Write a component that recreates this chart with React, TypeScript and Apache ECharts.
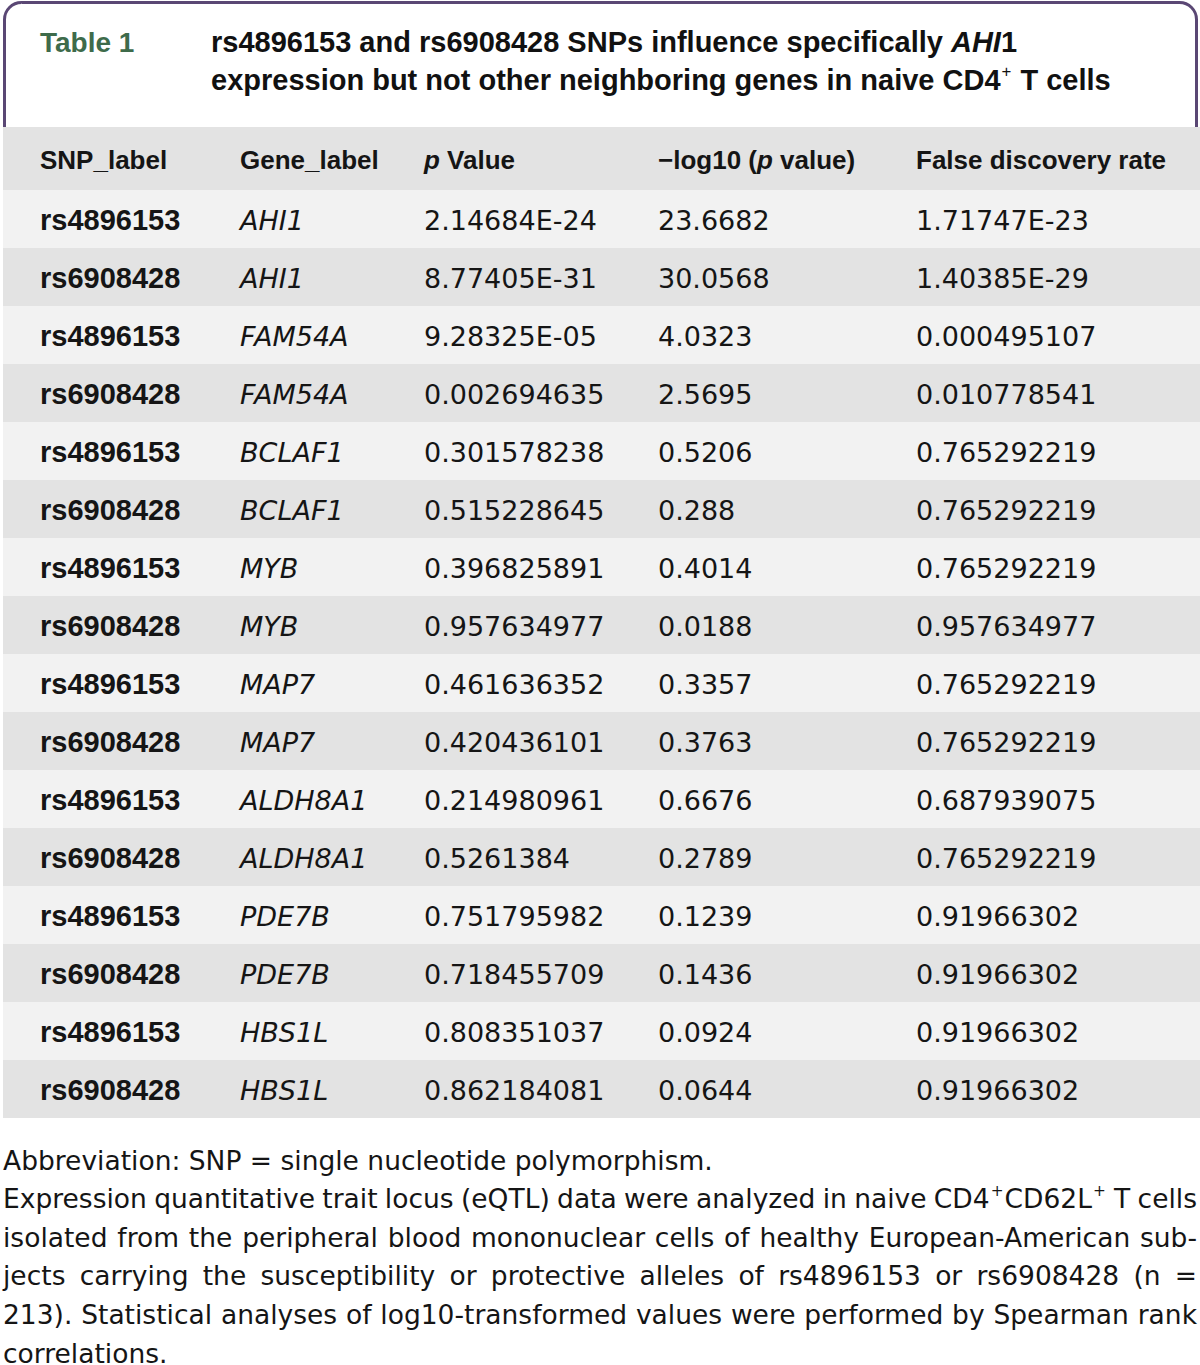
import React, { useEffect, useRef } from "react";
import * as echarts from "echarts";

// ---------- data ----------
const tableLabel = "Table 1";
const titleLine1 = [
  { t: "rs4896153 and rs6908428 SNPs influence specifically " },
  { t: "AHI", i: true },
  { t: "1" },
];
const titleLine2 = [
  { t: "expression but not other neighboring genes in naive CD4" },
  { t: "+", sup: true },
  { t: " T cells" },
];
const headers = [
  [{ t: "SNP_label" }],
  [{ t: "Gene_label" }],
  [{ t: "p", i: true }, { t: " Value" }],
  [{ t: "\u2212log10 (" }, { t: "p", i: true }, { t: " value)" }],
  [{ t: "False discovery rate" }],
];
const snpLabels = [
  "rs4896153", "rs6908428", "rs4896153", "rs6908428", "rs4896153", "rs6908428",
  "rs4896153", "rs6908428", "rs4896153", "rs6908428", "rs4896153", "rs6908428",
  "rs4896153", "rs6908428", "rs4896153", "rs6908428",
];
const geneLabels = [
  "AHI1", "AHI1", "FAM54A", "FAM54A", "BCLAF1", "BCLAF1", "MYB", "MYB",
  "MAP7", "MAP7", "ALDH8A1", "ALDH8A1", "PDE7B", "PDE7B", "HBS1L", "HBS1L",
];
const pValues = [
  "2.14684E-24", "8.77405E-31", "9.28325E-05", "0.002694635", "0.301578238",
  "0.515228645", "0.396825891", "0.957634977", "0.461636352", "0.420436101",
  "0.214980961", "0.5261384", "0.751795982", "0.718455709", "0.808351037",
  "0.862184081",
];
const negLog10 = [
  "23.6682", "30.0568", "4.0323", "2.5695", "0.5206", "0.288", "0.4014", "0.0188",
  "0.3357", "0.3763", "0.6676", "0.2789", "0.1239", "0.1436", "0.0924", "0.0644",
];
const fdrValues = [
  "1.71747E-23", "1.40385E-29", "0.000495107", "0.010778541", "0.765292219",
  "0.765292219", "0.765292219", "0.957634977", "0.765292219", "0.765292219",
  "0.687939075", "0.765292219", "0.91966302", "0.91966302", "0.91966302",
  "0.91966302",
];
const footLines = [
  { justify: false, words: "Abbreviation: SNP = single nucleotide polymorphism." },
  { justify: true, words: "Expression quantitative trait locus (eQTL) data were analyzed in naive CD4{+}CD62L{+} T cells" },
  { justify: true, words: "isolated from the peripheral blood mononuclear cells of healthy European-American sub-" },
  { justify: true, words: "jects carrying the susceptibility or protective alleles of rs4896153 or rs6908428 (n =" },
  { justify: true, words: "213). Statistical analyses of log10-transformed values were performed by Spearman rank" },
  { justify: false, words: "correlations." },
];

// ---------- styles ----------
const W = 1200;
const H = 1365;
const REG = "DejaVu Sans";
const BOLD = "Liberation Sans";
const PURPLE = "#5a4774";
const GREEN = "#3e6b4b";
const DARK_ROW = "#e3e3e3";
const LIGHT_ROW = "#f2f2f2";
const TEXT = "#151515";
const colX = [40, 240, 424, 658, 916];
const tableTop = 127;
const headerH = 63;
const rowH = 58;
const tableLeft = 3;
const tableRight = 1200;

type Seg = { t: string; i?: boolean; sup?: boolean };
type Font = { family: string; size: number; weight: string; color: string; italic?: boolean };

let ctx: CanvasRenderingContext2D | null = null;
function measure(text: string, size: number, family: string, weight: string, italic: boolean) {
  if (!ctx) ctx = document.createElement("canvas").getContext("2d");
  ctx!.font = `${italic ? "italic " : ""}${weight} ${size}px "${family}"`;
  return ctx!.measureText(text).width;
}

function segWidth(s: Seg, f: Font) {
  const size = s.sup ? f.size * 0.58 : f.size;
  return measure(s.t, size, f.family, f.weight, !!(s.i || f.italic));
}

function drawSegs(x: number, y: number, segs: Seg[], f: Font, out: any[]) {
  let cx = x;
  for (const s of segs) {
    const size = s.sup ? f.size * 0.58 : f.size;
    out.push({
      type: "text",
      x: s.sup ? cx + 1 : cx,
      y: s.sup ? y - f.size * 0.28 : y,
      z: 10,
      silent: true,
      style: {
        text: s.t,
        fontSize: size,
        fontFamily: f.family,
        fontWeight: s.sup ? "normal" : f.weight,
        fontStyle: s.i || f.italic ? "italic" : "normal",
        fill: f.color,
        align: "left",
        verticalAlign: "middle",
      },
    });
    cx += segWidth(s, f) + (s.sup ? 2 : 0);
  }
  return cx - x;
}

function parseWord(w: string): Seg[] {
  const segs: Seg[] = [];
  const re = /\{([^}]*)\}/g;
  let last = 0;
  let m;
  while ((m = re.exec(w))) {
    if (m.index > last) segs.push({ t: w.slice(last, m.index) });
    segs.push({ t: m[1], sup: true });
    last = m.index + m[0].length;
  }
  if (last < w.length) segs.push({ t: w.slice(last) });
  return segs;
}

function buildElements() {
  const els: any[] = [];
  // header box with rounded top corners
  els.push({
    type: "rect",
    z: 0,
    silent: true,
    shape: { x: 4.5, y: 2.5, width: 1192, height: 150, r: [17, 17, 0, 0] },
    style: { fill: "#ffffff", stroke: PURPLE, lineWidth: 3 },
  });
  // title
  const titleFont: Font = { family: BOLD, size: 29, weight: "bold", color: "#111" };
  drawSegs(40, 42, [{ t: tableLabel }], { ...titleFont, color: GREEN, size: 28 }, els);
  drawSegs(211, 42, titleLine1, titleFont, els);
  drawSegs(211, 80, titleLine2, titleFont, els);

  // table background
  els.push({
    type: "rect", z: 1, silent: true,
    shape: { x: tableLeft, y: tableTop, width: tableRight - tableLeft, height: headerH },
    style: { fill: DARK_ROW },
  });
  snpLabels.forEach((_, r) => {
    els.push({
      type: "rect", z: 1, silent: true,
      shape: { x: tableLeft, y: tableTop + headerH + r * rowH, width: tableRight - tableLeft, height: rowH },
      style: { fill: r % 2 === 0 ? LIGHT_ROW : DARK_ROW },
    });
  });

  const headFont: Font = { family: BOLD, size: 26, weight: "bold", color: TEXT };
  headers.forEach((h, c) => drawSegs(colX[c], tableTop + headerH / 2 + 1, h, headFont, els));

  const snpFont: Font = { family: BOLD, size: 29, weight: "bold", color: TEXT };
  const regFont: Font = { family: REG, size: 27, weight: "normal", color: TEXT };
  snpLabels.forEach((snp, r) => {
    const y = tableTop + headerH + r * rowH + rowH / 2 + 1;
    drawSegs(colX[0], y, [{ t: snp }], snpFont, els);
    drawSegs(colX[1], y, [{ t: geneLabels[r], i: true }], regFont, els);
    drawSegs(colX[2], y, [{ t: pValues[r] }], regFont, els);
    drawSegs(colX[3], y, [{ t: negLog10[r] }], regFont, els);
    drawSegs(colX[4], y, [{ t: fdrValues[r] }], regFont, els);
  });

  // footnote
  const footFont: Font = { family: REG, size: 26.5, weight: "normal", color: TEXT };
  const footLeft = 3;
  const footRight = 1197;
  const footTop = 1160;
  const footStep = 38.6;
  footLines.forEach((line, li) => {
    const y = footTop + li * footStep;
    const words = line.words.split(" ").map(parseWord);
    const widths = words.map((w) => w.reduce((a, s) => a + segWidth(s, footFont) + (s.sup ? 2 : 0), 0));
    const space = measure(" ", footFont.size, footFont.family, footFont.weight, false);
    let gap = space;
    if (line.justify && words.length > 1) {
      const total = widths.reduce((a, b) => a + b, 0);
      gap = (footRight - footLeft - total) / (words.length - 1);
    }
    let x = footLeft;
    words.forEach((w, wi) => {
      drawSegs(x, y, w, footFont, els);
      x += widths[wi] + gap;
    });
  });
  return els;
}

export default function App() {
  const ref = useRef<HTMLDivElement>(null);
  useEffect(() => {
    document.body.style.margin = "0";
    const chart = echarts.init(ref.current!, null, { renderer: "svg", width: W, height: H });
    chart.setOption({
      animation: false,
      backgroundColor: "#ffffff",
      graphic: { elements: buildElements() },
    });
    return () => chart.dispose();
  }, []);
  return <div ref={ref} style={{ width: W, height: H }} />;
}
